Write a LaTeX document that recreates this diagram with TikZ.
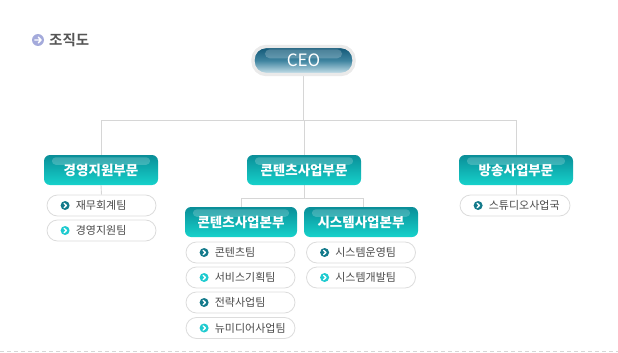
\documentclass[tikz,border=0pt]{standalone}
\usepackage{fontspec}
\setmainfont{Noto Sans CJK KR}
\newfontfamily\krb{Noto Sans CJK KR}[BoldFont={* Bold}]
\usetikzlibrary{calc,backgrounds}
\definecolor{linegray}{HTML}{D6D6D6}
\definecolor{pillgray}{HTML}{DCDCDC}
\definecolor{teamtext}{HTML}{4A4A4A}
\definecolor{titletext}{HTML}{555555}
\definecolor{tealtop}{HTML}{0A8E98}
\definecolor{tealbot}{HTML}{16D2CB}
\definecolor{ceotop}{HTML}{0F5574}
\definecolor{ceomid}{HTML}{3F84A0}
\definecolor{ceobot}{HTML}{D2E8F0}
\definecolor{bulletdark}{HTML}{137A8B}
\definecolor{bulletlight}{HTML}{1FCBD0}
\definecolor{iconblue}{HTML}{A4AADB}
\tikzset{
  x=1pt,y=-1pt,
  conn/.style={draw=linegray,line width=0.9pt},
  divbox/.style={rounded corners=6pt,minimum height=30pt,inner sep=0pt,
    top color=tealtop,bottom color=tealbot,text=white,font=\bfseries\fontsize{13.5}{15}\selectfont},
  ceobox/.style={rounded corners=13pt,minimum width=101pt,minimum height=28pt,inner sep=0pt,
    top color=ceotop,bottom color=ceobot,middle color=ceomid,text=white,font=\fontsize{17}{19}\selectfont,
    double=pillgray!60,double distance=2.5pt,draw=pillgray!60},
  teampill/.style={rounded corners=10.5pt,minimum width=109pt,minimum height=21pt,inner sep=0pt,
    draw=pillgray,fill=white,line width=0.8pt},
  teamtxt/.style={anchor=west,inner sep=0pt,text=teamtext,font=\fontsize{11}{13}\selectfont},
  bdark/.style={circle,fill=bulletdark,minimum size=9pt,inner sep=0pt},
  blight/.style={circle,fill=bulletlight,minimum size=9pt,inner sep=0pt},
}
\newcommand{\teamitem}[5]{% name, center, width, bulletstyle, text
  \node[teampill,minimum width=#3] (#1) at #2 {};
  \node[#4] (#1b) at ($(#1.west)+(18.5,0)$) {};
  \draw[white,line width=1.3pt,line cap=round,line join=round]
    ($(#1b.center)+(-1,-2.2)$) -- ($(#1b.center)+(1.3,0)$) -- ($(#1b.center)+(-1,2.2)$);
  \node[teamtxt] (#1t) at ($(#1.west)+(29,0)$) {#5};}
\begin{document}
\begin{tikzpicture}
\useasboundingbox (0,0) rectangle (618,353);
% title
\node[circle,fill=iconblue,minimum size=12pt,inner sep=0pt] (ticon) at (38,40) {};
\draw[white,line width=1.3pt,line cap=round,line join=round]
  ($(ticon.center)+(-3.2,0)$) -- ($(ticon.center)+(3,0)$)
  ($(ticon.center)+(0.3,-2.8)$) -- ($(ticon.center)+(3.1,0)$) -- ($(ticon.center)+(0.3,2.8)$);
\node[anchor=west,inner sep=0pt,text=titletext,font=\krb\bfseries\fontsize{14.5}{16}\selectfont] (title) at (49,40) {조직도};

% CEO
\node[ceobox] (ceo) at (303.5,60.5) {CEO};
\fill[white,opacity=0.22,rounded corners=5pt] ($(ceo.north west)+(12,3)$) rectangle ($(ceo.north east)+(-12,12)$);

% divisions
\node[divbox,minimum width=114pt] (d1) at (101,170) {경영지원부문};
\node[divbox,minimum width=114pt] (d2) at (304,170) {콘텐츠사업부문};
\node[divbox,minimum width=114pt] (d3) at (516,170) {방송사업부문};
\node[divbox,minimum width=112pt] (s1) at (241,222) {콘텐츠사업본부};
\node[divbox,minimum width=114pt] (s2) at (361,222) {시스템사업본부};
\foreach \n in {d1,d2,d3,s1,s2}{
  \fill[white,opacity=0.2,rounded corners=4pt] ($(\n.north west)+(8,2.5)$) rectangle ($(\n.north east)+(-8,10)$);
}

% teams
\teamitem{t1}{(101.5,205.5)}{109pt}{bdark}{재무회계팀}
\teamitem{t2}{(101.5,230.5)}{109pt}{blight}{경영지원팀}
\teamitem{t3}{(240.5,252.5)}{109pt}{bdark}{콘텐츠팀}
\teamitem{t4}{(240.5,277.5)}{109pt}{blight}{서비스기획팀}
\teamitem{t5}{(240.5,302.5)}{109pt}{bdark}{전략사업팀}
\teamitem{t6}{(240.5,328)}{109pt}{blight}{뉴미디어사업팀}
\teamitem{t7}{(361,252.5)}{109pt}{bdark}{시스템운영팀}
\teamitem{t8}{(361,277.5)}{109pt}{blight}{시스템개발팀}
\teamitem{t9}{(515,205.5)}{110pt}{bdark}{스튜디오사업국}

% connectors
\coordinate (bus) at (0,120);
\coordinate (bus2) at (0,198);
\coordinate (s2top) at (363,207);
\begin{scope}[on background layer]
\draw[conn] (ceo.south) -- (ceo.south |- bus);
\draw[conn] (d1.north) |- (bus -| d3.north) -- (d3.north);
\draw[conn] (d2.north) -- (d2.north |- bus);
\draw[conn] (d1.south) -- (t1.north);
\draw[conn] (d3.south) -- (d3.south |- t9.north);
\draw[conn] (d2.south) -- (d2.south |- bus2);
\draw[conn] (s1.north) |- (bus2 -| s2top) -- (s2top);
\end{scope}

% dashed bottom line
\draw[linegray,line width=0.9pt,dash pattern=on 4pt off 3pt] (0,351.5) -- (618,351.5);
\end{tikzpicture}
\end{document}
